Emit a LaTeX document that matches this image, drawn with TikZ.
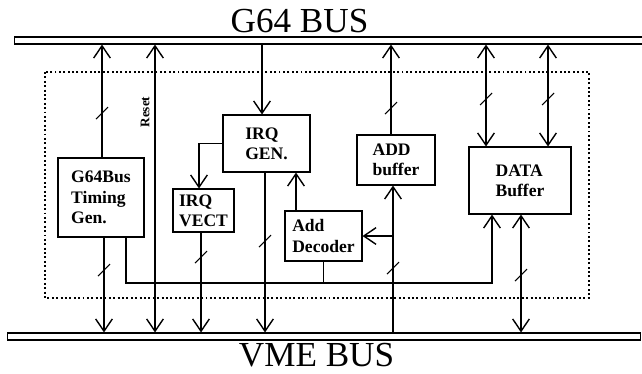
\documentclass[tikz,border=0pt]{standalone}
\usepackage{fontspec}
\setmainfont{Liberation Serif}
\usetikzlibrary{arrows.meta}

\tikzset{
  block/.style={draw, line width=0.6pt, align=left, inner sep=2pt,
    font=\fontsize{10}{11.5}\selectfont\bfseries},
  bus/.style={draw, line width=0.6pt, inner sep=0pt, minimum height=0.14cm, anchor=west},
  title/.style={anchor=base, inner sep=0pt, font=\fontsize{20}{24}\selectfont},
  board/.style={line width=1pt, dash pattern=on 1.1pt off 1.4pt},
}
% bus width mark across a line
\newcommand{\wmark}[1]{\draw[line width=0.6pt] #1 ++(-6,6) -- ++(12,-12);}

\begin{document}
\begin{tikzpicture}[x=0.02cm, y=-0.02cm, line width=0.8pt,
  >={Straight Barb[length=7pt,width=9.5pt]}]
\useasboundingbox (0,0) rectangle (642,373);

% buses
\node[title] (g64title) at (299.5,32) {G64 BUS};
\node[bus, minimum width=12.72cm] (g64) at (14,40.5) {};
\node[bus, minimum width=12.66cm] (vme) at (7,336.5) {};
\node[title] (vmetitle) at (316.5,366) {VME BUS};

\draw[board] (45,72) rectangle (589,298);

% blocks
\node[block, minimum width=1.72cm, minimum height=1.58cm] (gen) at (101,197.5) {G64Bus\\Timing\\Gen.};
\node[block, minimum width=1.74cm, minimum height=1.14cm] (irqgen) at (266.5,143.5) {IRQ\\GEN.};
\node[block, minimum width=1.22cm, minimum height=0.86cm] (irqvect) at (203.5,210.5) {IRQ\\VECT};
\node[block, minimum width=1.54cm, minimum height=1.0cm] (adddec) at (323.5,236) {Add\\Decoder};
\node[block, minimum width=1.56cm, minimum height=1.0cm] (addbuf) at (396,160) {ADD\\buffer};
\node[block, minimum width=2.04cm, minimum height=1.34cm] (databuf) at (520,180.5) {DATA\\Buffer};

% timing generator
\draw[->] (gen.north -| 102,0) -- (g64.south -| 102,0);
\wmark{(102,113)}
\draw[->] (gen.south -| 104,0) -- (vme.north -| 104,0);
\wmark{(104,270)}
\draw[->] (gen.south -| 126,0) |- (492,283) -- (databuf.south -| 492,0);

% reset
\draw[<->] (g64.south -| 155,0) -- (vme.north -| 155,0);
\node[rotate=90, font=\fontsize{7.5}{8}\selectfont\bfseries] (reset) at (145,112) {Reset};

% interrupts
\draw[->] (g64.south -| 262,0) -- (irqgen.north -| 262,0);
\draw[->] (irqgen.west) -| (irqvect.north -| 199,0);
\draw[->] (irqgen.south -| 265,0) -- (vme.north -| 265,0);
\wmark{(265,241)}
\draw[->] (irqvect.south -| 201,0) -- (vme.north -| 201,0);
\wmark{(201,257)}
\draw[->] (adddec.north -| 296,0) -- (irqgen.south -| 296,0);

% address
\draw[->] (addbuf.north -| 391,0) -- (g64.south -| 391,0);
\wmark{(391,108)}
\draw[->] (vme.north -| 393,0) -- (addbuf.south -| 393,0);
\wmark{(393,268)}
\draw[->] (adddec.east -| 393,0) -- (adddec.east);
\draw (adddec.south) -- (adddec.south |- 0,283);

% data
\draw[<->] (g64.south -| 486,0) -- (databuf.north -| 486,0);
\wmark{(486,99)}
\draw[<->] (g64.south -| 548,0) -- (databuf.north -| 548,0);
\wmark{(548,99)}
\draw[<->] (vme.north -| 521,0) -- (databuf.south -| 521,0);
\wmark{(521,275)}

\end{tikzpicture}
\end{document}
